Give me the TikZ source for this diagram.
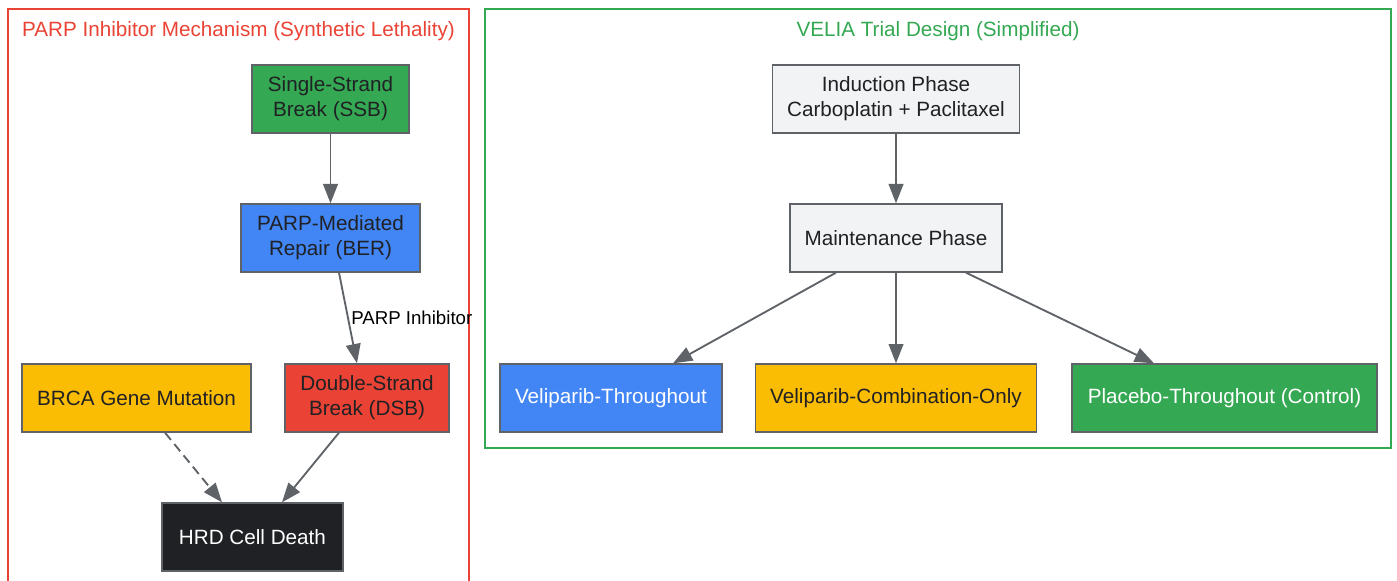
\documentclass[tikz,border=0pt]{standalone}
\usepackage{fontspec}
\setmainfont{Liberation Sans}
\usetikzlibrary{arrows.meta,calc}
\definecolor{gred}{HTML}{EA4335}
\definecolor{ggreen}{HTML}{34A853}
\definecolor{gblue}{HTML}{4285F4}
\definecolor{gyellow}{HTML}{FBBC04}
\definecolor{gdark}{HTML}{202124}
\definecolor{glight}{HTML}{F1F3F4}
\definecolor{gborder}{HTML}{5F6368}
\begin{document}
\begin{tikzpicture}[x=0.75pt,y=-0.75pt,
  box/.style={draw=gborder,line width=1pt,align=center,inner sep=0pt,text=gdark,
    font=\fontsize{15.5}{18.75}\selectfont,minimum height=51pt},
  cluster/.style={line width=1.2pt},
  ctitle/.style={font=\fontsize{15.5}{18.75}\selectfont},
  link/.style={draw=gborder,line width=1.4pt,-{Triangle[length=14.5pt,width=11pt]}},
  elabel/.style={font=\fontsize{14}{16}\selectfont,text=black,anchor=west,inner sep=0pt}]
\useasboundingbox (0,0) rectangle (1397,581);
% clusters
\draw[cluster,draw=gred] (8,9) rectangle (469,590);
\node[ctitle,text=gred] (t1) at (238.5,31.5) {PARP Inhibitor Mechanism (Synthetic Lethality)};
\draw[cluster,draw=ggreen] (485,9) rectangle (1391,448);
\node[ctitle,text=ggreen] (t2) at (938,31.5) {VELIA Trial Design (Simplified)};
% left nodes
\node[box,fill=ggreen,minimum width=117.75pt] (ssb) at (330.5,99) {Single-Strand\\Break (SSB)};
\node[box,fill=gblue,minimum width=134.25pt] (parp) at (330.5,238) {PARP-Mediated\\Repair (BER)};
\node[box,fill=gyellow,minimum width=171.75pt] (brca) at (136.5,398) {BRCA Gene Mutation};
\node[box,fill=gred,minimum width=123pt] (dsb) at (367,398) {Double-Strand\\Break (DSB)};
\node[box,fill=gdark,text=white,minimum width=135.75pt] (hrd) at (252.5,537) {HRD Cell Death};
% right nodes
\node[box,fill=glight,minimum width=185.25pt] (ind) at (896,99) {Induction Phase\\Carboplatin + Paclitaxel};
\node[box,fill=glight,minimum width=159pt] (maint) at (896,238) {Maintenance Phase};
\node[box,fill=gblue,text=white,minimum width=166.5pt] (velt) at (611,398) {Veliparib-Throughout};
\node[box,fill=gyellow,minimum width=210.75pt] (velc) at (896,398) {Veliparib-Combination-Only};
\node[box,fill=ggreen,text=white,minimum width=228.75pt] (plac) at (1224.5,398) {Placebo-Throughout (Control)};
% edges
\draw[link] (ssb) -- (parp);
\draw[link] ($(parp.south)+(8.5,0)$) -- ($(dsb.north)+(-10,0)$);
\node[elabel] (lab) at (351,318) {PARP Inhibitor};
\draw[link,dashed,dash pattern=on 7pt off 4pt] ($(brca.south)+(28.5,0)$) -- ($(hrd.north)+(-30.5,0)$);
\draw[link] ($(dsb.south)+(-28,0)$) -- ($(hrd.north)+(29.5,0)$);
\draw[link] (ind) -- (maint);
\draw[link] ($(maint.south)+(-60,0)$) -- ($(velt.north)+(62,0)$);
\draw[link] (maint.south) -- (velc.north);
\draw[link] ($(maint.south)+(70,0)$) -- ($(plac.north)+(-70.5,0)$);
\end{tikzpicture}
\end{document}
